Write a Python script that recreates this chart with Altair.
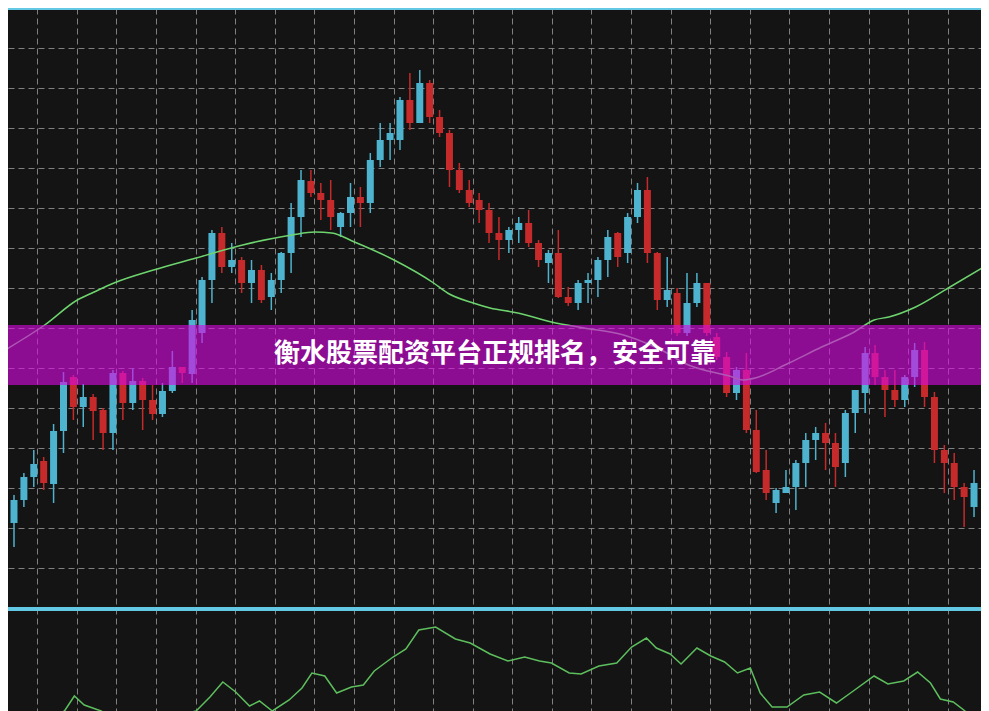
import altair as alt
import pandas as pd

# ---------------- data ----------------
candle_idx = list(range(1, 99))
opens = [10.5, 12.8, 15.1, 16.7, 14.4, 19.7, 25.1, 22.1, 23.1, 21.8,
         19.5, 25.5, 22.5, 24.7, 22.8, 21.4, 23.7, 26.1, 25.4, 29.5,
         34.8, 39.5, 36.1, 36.8, 34.5, 35.8, 33.1, 34.8, 37.5, 41.1,
         44.7, 43.5, 42.8, 40.1, 41.5, 43.1, 42.5, 46.8, 48.8, 48.8,
         52.8, 50.5, 54.5, 51.1, 49.5, 45.8, 43.8, 42.8, 41.8, 39.5,
         38.8, 39.8, 40.5, 38.5, 36.5, 37.5, 33.1, 32.5, 34.5, 34.8,
         36.8, 39.5, 37.5, 41.1, 43.8, 37.5, 32.8, 33.5, 29.5, 32.5,
         34.5, 29.1, 27.1, 23.5, 25.8, 19.8, 15.8, 12.5, 13.5, 14.1,
         16.5, 18.8, 19.5, 18.5, 16.5, 21.5, 23.5, 27.5, 25.1, 23.8,
         22.8, 25.1, 27.8, 23.1, 17.8, 16.5, 14.1, 12.1]
closes = [12.8, 15.1, 16.4, 14.5, 19.7, 24.6, 22.1, 23.1, 21.7, 19.5,
          25.5, 22.5, 24.7, 22.8, 21.4, 23.7, 26.1, 25.5, 30.8, 34.8,
          39.5, 36.1, 36.8, 34.5, 35.8, 32.8, 34.8, 37.5, 41.1, 44.8,
          43.5, 42.8, 41.1, 41.5, 43.1, 42.5, 46.8, 48.8, 49.5, 52.8,
          50.5, 54.5, 51.1, 49.5, 45.8, 43.8, 42.5, 41.8, 39.5, 38.8,
          39.8, 40.5, 38.5, 36.8, 37.5, 33.1, 32.5, 34.5, 34.8, 36.8,
          39.1, 37.1, 41.1, 43.8, 37.5, 32.8, 33.8, 29.5, 32.5, 34.5,
          29.5, 27.1, 23.5, 25.8, 19.8, 15.6, 13.5, 13.8, 14.1, 16.5,
          18.8, 19.5, 18.5, 16.1, 21.5, 23.8, 27.5, 25.1, 23.8, 22.8,
          25.1, 27.8, 23.1, 17.8, 16.5, 14.1, 13.1, 14.5]
highs = [13.3, 15.5, 17.8, 17.1, 20.4, 25.6, 25.3, 24.4, 23.4, 22.0,
         25.8, 25.7, 26.0, 25.0, 24.3, 24.5, 27.7, 26.1, 31.8, 35.1,
         39.8, 40.1, 38.5, 37.1, 36.8, 36.3, 35.5, 37.6, 42.5, 45.8,
         45.8, 44.5, 44.8, 41.6, 44.5, 44.1, 47.5, 50.5, 50.5, 53.1,
         55.5, 55.8, 54.8, 51.8, 49.8, 46.5, 44.8, 43.5, 42.5, 41.1,
         40.1, 41.1, 41.8, 38.8, 37.8, 39.8, 34.1, 34.8, 35.5, 37.1,
         39.8, 39.6, 41.5, 44.5, 45.1, 37.6, 37.1, 34.0, 35.5, 35.5,
         34.5, 29.5, 27.6, 26.1, 27.5, 21.8, 17.8, 14.0, 15.8, 16.8,
         19.5, 20.1, 20.5, 19.5, 21.8, 23.8, 28.1, 28.3, 25.8, 25.8,
         25.3, 28.5, 28.6, 23.6, 18.3, 17.5, 14.5, 15.8]
lows = [8.1, 12.1, 14.1, 13.8, 12.5, 17.5, 20.8, 20.1, 18.8, 17.8,
        17.8, 20.8, 21.8, 19.8, 20.8, 21.1, 23.5, 24.5, 24.5, 28.5,
        32.5, 35.5, 35.5, 33.5, 32.5, 32.5, 31.8, 33.5, 35.5, 39.1,
        43.1, 40.8, 39.8, 39.1, 40.1, 40.1, 41.5, 46.1, 46.8, 47.8,
        49.8, 50.5, 50.5, 49.1, 44.1, 43.5, 42.1, 40.5, 38.5, 36.8,
        37.5, 38.5, 38.1, 36.1, 34.5, 33.0, 32.2, 31.8, 32.5, 33.1,
        35.1, 36.1, 36.5, 40.5, 36.5, 31.8, 32.1, 29.2, 29.2, 32.1,
        29.2, 26.8, 23.1, 22.8, 19.5, 15.5, 12.8, 11.5, 13.5, 11.8,
        14.1, 16.8, 15.8, 14.1, 15.1, 19.5, 21.5, 24.3, 21.1, 22.1,
        22.1, 24.1, 22.1, 16.5, 13.5, 12.8, 10.1, 11.1]

ma_idx = [0.1, 4.1, 7.4, 9.1, 11.1, 15.1, 19.4, 24.1, 29.1, 31.4, 33.1, 35.4,
          39.4, 43.4, 44.8, 47.4, 49.1, 51.9, 55.3, 58.6, 62.6, 65.3, 66.8,
          68.7, 73.6, 74.6, 75.9, 79.3, 82.6, 85.9, 87.9, 89.4, 92.1, 95.4, 99.0]
ma_val = [27.8, 30.3, 32.8, 33.6, 34.5, 35.8, 37.0, 38.3, 39.3, 39.6, 39.5, 38.6,
          36.8, 34.5, 33.5, 32.5, 32.0, 31.5, 30.6, 30.0, 29.3, 28.3, 27.6,
          26.5, 25.1, 24.8, 25.0, 26.5, 28.1, 29.6, 30.8, 31.1, 32.1, 34.0, 36.1]

osc_idx = [1.0, 3.0, 5.0, 6.1, 7.1, 8.1, 9.8, 11.1, 13.1, 15.1, 17.1, 19.4,
           20.8, 22.1, 23.4, 24.8, 25.8, 27.1, 28.8, 30.1, 31.1, 32.4, 33.6,
           35.1, 36.3, 37.4, 39.3, 40.6, 41.9, 43.6, 45.6, 47.1, 49.1, 50.9,
           52.6, 54.1, 55.3, 57.1, 58.3, 60.1, 61.9, 63.4, 64.9, 65.9, 67.3,
           68.4, 70.0, 71.4, 72.8, 74.1, 75.4, 76.4, 77.6, 79.1, 80.8, 82.4,
           84.1, 85.8, 87.9, 89.3, 90.9, 92.3, 93.6, 94.6, 95.9, 97.1, 98.1]
osc_val = [1.0, 3.0, 7.0, 9.5, 17.0, 12.5, 9.5, 6.0, 4.0, 5.0, 7.0, 9.5,
           16.5, 24.0, 19.0, 12.0, 14.5, 9.5, 15.0, 21.0, 28.5, 27.0, 18.5,
           21.5, 22.5, 29.5, 36.5, 40.5, 50.0, 51.5, 45.5, 43.5, 38.0, 34.5,
           36.5, 34.5, 33.5, 28.5, 28.0, 32.0, 33.5, 41.5, 46.0, 41.0, 38.0,
           33.0, 41.0, 37.0, 34.0, 28.5, 31.0, 18.5, 11.5, 11.5, 17.5, 19.0,
           13.5, 19.5, 27.0, 23.0, 24.5, 29.0, 23.5, 15.5, 14.0, 9.5, 6.0]

grid_prices = [58, 54, 50, 46, 42, 38, 34, 30, 26, 22, 18, 14, 10, 6]
grid_idx = [3.35 + 4 * k for k in range(24)]
panel_borders = [62.0, 1.9]
band_range = [30.3, 24.3]
banner_text = "衡水股票配资平台正规排名，安全可靠"

# ---------------- styling ----------------
UP = "#4EB3CF"
DOWN = "#C62A2A"
BG = "#141414"

df = pd.DataFrame({"idx": candle_idx, "open": opens, "close": closes,
                   "high": highs, "low": lows})
df["dir"] = ["up" if c > o else "down" for o, c in zip(opens, closes)]

xs = alt.Scale(domain=[0.9, 98.2], nice=False, zero=False)
ys = alt.Scale(domain=[-8.3, 62.0], nice=False, zero=False)
cs = alt.Scale(domain=["up", "down"], range=[UP, DOWN])

x_axis = alt.Axis(values=grid_idx, grid=True, labels=False, ticks=False,
                  domain=False, title=None)
y_axis = alt.Axis(values=grid_prices, grid=True, labels=False, ticks=False,
                  domain=False, title=None)

base = alt.Chart(df)
wicks = base.mark_rule(strokeWidth=1.5, clip=True).encode(
    x=alt.X("idx:Q", scale=xs, axis=x_axis),
    y=alt.Y("low:Q", scale=ys, axis=y_axis),
    y2="high:Q",
    color=alt.Color("dir:N", scale=cs, legend=None),
)
bodies = base.mark_bar(size=7, clip=True).encode(
    x=alt.X("idx:Q", scale=xs),
    y=alt.Y("open:Q", scale=ys),
    y2="close:Q",
    color=alt.Color("dir:N", scale=cs, legend=None),
)

ma = alt.Chart(pd.DataFrame({"idx": ma_idx, "val": ma_val})).mark_line(
    interpolate="monotone", color="#6ED46E", strokeWidth=1.5, clip=True
).encode(x=alt.X("idx:Q", scale=xs), y=alt.Y("val:Q", scale=ys))

band = alt.Chart(pd.DataFrame({"top": [band_range[0]], "bottom": [band_range[1]]})).mark_rect(
    color="#D60AE0", opacity=0.62
).encode(y=alt.Y("top:Q", scale=ys), y2="bottom:Q")

borders = alt.Chart(pd.DataFrame({"level": panel_borders})).mark_rule(
    color="#62C8E4", strokeWidth=4
).encode(y=alt.Y("level:Q", scale=ys))

label = alt.Chart(pd.DataFrame({"t": [banner_text]})).mark_text(
    font="Noto Sans CJK SC", fontSize=26, fontWeight="bold", color="white",
    align="center", baseline="middle"
).encode(x=alt.datum(49.6), y=alt.datum(27.45), text="t:N")

price = alt.layer(wicks, bodies, ma, band, borders, label)

osc = alt.Chart(pd.DataFrame({"idx": osc_idx, "val": osc_val})).mark_line(
    color="#5DBE5D", strokeWidth=1.5, clip=True
).encode(
    x=alt.X("idx:Q", scale=xs),
    y=alt.Y("val:Q", scale=alt.Scale(domain=[9.5, 361], nice=False, zero=False), axis=None),
)

chart = alt.layer(price, osc).resolve_scale(y="independent").properties(
    width=973, height=703, padding=0, autosize="none", background=BG
).configure_view(stroke=None).configure_axis(
    gridColor="#8c8c8c", gridDash=[6, 4], gridWidth=1, gridOpacity=0.9
)

chart.save("out.html", embed_options={"renderer": "svg", "actions": False})
